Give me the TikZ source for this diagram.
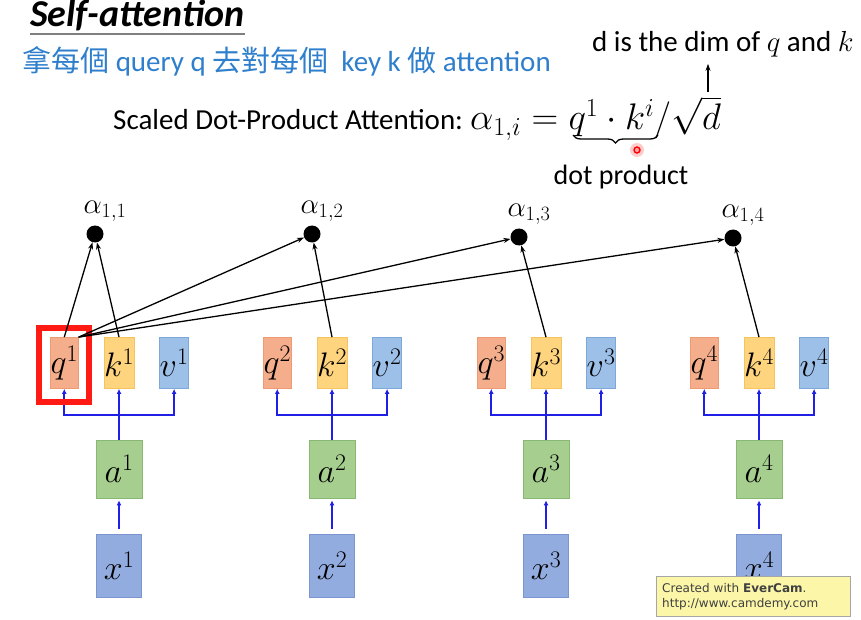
\RequirePackage{fix-cm}
\documentclass[tikz,border=0pt]{standalone}
\usepackage{fontspec}
\setmainfont{Carlito}
\newfontfamily\cjkfont{Noto Sans CJK TC}
\newfontfamily\camfont{DejaVu Sans}
\usepackage{xcolor}
\usetikzlibrary{positioning, arrows.meta, decorations.pathreplacing}
\definecolor{qfill}{HTML}{F4AE8C}
\definecolor{qline}{HTML}{EE9A74}
\definecolor{kfill}{HTML}{FFD47F}
\definecolor{kline}{HTML}{F6C45E}
\definecolor{vfill}{HTML}{9DC0E8}
\definecolor{vline}{HTML}{7FA8DA}
\definecolor{afill}{HTML}{A5CE8F}
\definecolor{aline}{HTML}{88B873}
\definecolor{xfill}{HTML}{93ACE0}
\definecolor{xline}{HTML}{7B95D0}
\definecolor{feedblue}{HTML}{1F1FE6}
\definecolor{cnblue}{HTML}{2F7FCC}
\definecolor{framered}{HTML}{FF1A14}
\definecolor{camyellow}{HTML}{FBF6A8}

\tikzset{
  vecbox/.style={line width=0.8pt, inner sep=0pt, minimum width=28pt,
                 minimum height=51pt, font=\fontsize{34}{34}\selectfont},
  qbox/.style={vecbox, fill=qfill, draw=qline},
  kbox/.style={vecbox, fill=kfill, draw=kline},
  vbox/.style={vecbox, fill=vfill, draw=vline},
  abox/.style={vecbox, fill=afill, draw=aline, minimum width=46pt, minimum height=58pt},
  xbox/.style={vecbox, fill=xfill, draw=xline, minimum width=45pt, minimum height=63pt},
  feed/.style={draw=feedblue, line width=1.6pt, -{Latex[length=5pt,width=5pt]}},
  score/.style={line width=1.3pt, -{Stealth[length=7pt,width=5pt]}},
  attn/.style={circle, fill=black, minimum size=17pt, inner sep=0pt}
}

\begin{document}
\begin{tikzpicture}[x=1pt, y=-1pt]
    \fill[white] (0,0) rectangle (861,620);
    \useasboundingbox (0,0) rectangle (861,620);

    % heading
    \node[anchor=base west, inner sep=0pt,
          font=\fontsize{38}{42}\selectfont\bfseries\itshape] (title) at (30,27) {Self-attention};
    \draw[gray, line width=1.5pt] ([yshift=-7pt]title.base west) -- ([yshift=-7pt]title.base east);
    \node[anchor=base west, inner sep=0pt, text=cnblue,
          font=\fontsize{29}{32}\selectfont] (intro) at (22,72)
      {{\cjkfont 拿每個} query q {\cjkfont 去對每個}\ \ key k {\cjkfont 做} attention};

    % formula
    \node[anchor=base west, inner sep=0pt, font=\fontsize{29}{32}\selectfont] (scaled) at (113,130)
      {Scaled Dot-Product Attention:};
    \node[anchor=base west, inner sep=0pt, font=\fontsize{37}{42}\selectfont] (formula) at (470,130)
      {$\alpha_{1,i} = q^1 \cdot k^i / \sqrt{d}$};
    \node[anchor=base west, inner sep=0pt, font=\fontsize{29}{32}\selectfont] (dnote) at (592,52)
      {d is the dim of $q$ and $k$};
    \coordinate (dtail) at (708,92);
    \draw[score, line width=1.6pt, shorten >=6pt] (dtail) -- (dtail |- dnote.south);
    \coordinate (bl) at (573,135);
    \coordinate (br) at (658,135);
    \draw[decorate, decoration={brace, mirror, amplitude=8pt}, line width=1.3pt] (bl) -- (br);
    \node[anchor=base, inner sep=0pt, font=\fontsize{28}{30}\selectfont] (dotprod) at (621,185) {dot product};
    \fill[red!20] (637,150) circle (7pt);
    \draw[red, line width=1.4pt, fill=red!35] (637,150) circle (3pt);

    % q, k, v of every input
    \foreach \i/\cx in {1/119, 2/332, 3/546, 4/759} {
      \node[kbox] (k\i) at (\cx,363) {$k^{\i}$};
      \node[qbox, left=25pt of k\i] (q\i) {$q^{\i}$};
      \node[vbox, right=25pt of k\i] (v\i) {$v^{\i}$};
      \node[abox] (a\i) at (\cx,469) {$a^{\i}$};
      \node[xbox] (x\i) at (\cx,566) {$x^{\i}$};
      \coordinate (j\i) at (\cx,415);
      \draw[feed] (a\i.north) -- (k\i.south);
      \draw[feed] (j\i) -| (q\i.south);
      \draw[feed] (j\i) -| (v\i.south);
      \draw[feed, shorten <=5pt, shorten >=2pt] (x\i.north) -- (a\i.south);
    }

    % attention scores
    \foreach \i/\px/\py in {1/95/234, 2/312/234, 3/519/237, 4/733/238}
      \node[attn, label={[xshift=10pt, label distance=0pt, font=\fontsize{29}{29}\selectfont]above:$\alpha_{1,\i}$}]
        (al\i) at (\px,\py) {};

    \draw[framered, line width=6pt] ([shift={(-11pt,9pt)}]q1.north west)
      rectangle ([shift={(10pt,-13pt)}]q1.south east);

    \draw[score] (q1.north) -- (al1);
    \foreach \i in {1,...,4}
      \draw[score] (k\i.north) -- (al\i);
    \foreach \i in {2,3,4}
      \draw[score] (q1.north east) -- (al\i);

    % recorder stamp
    \node[draw=gray!70, fill=camyellow, anchor=north west, inner sep=0pt,
          minimum width=194pt, minimum height=40pt, text width=182pt, align=left,
          text=black!75, font=\camfont\fontsize{12}{15}\selectfont] (stamp) at (656,576)
      {Created with \textbf{EverCam}.\\http://www.camdemy.com};
  \end{tikzpicture}
\end{document}
